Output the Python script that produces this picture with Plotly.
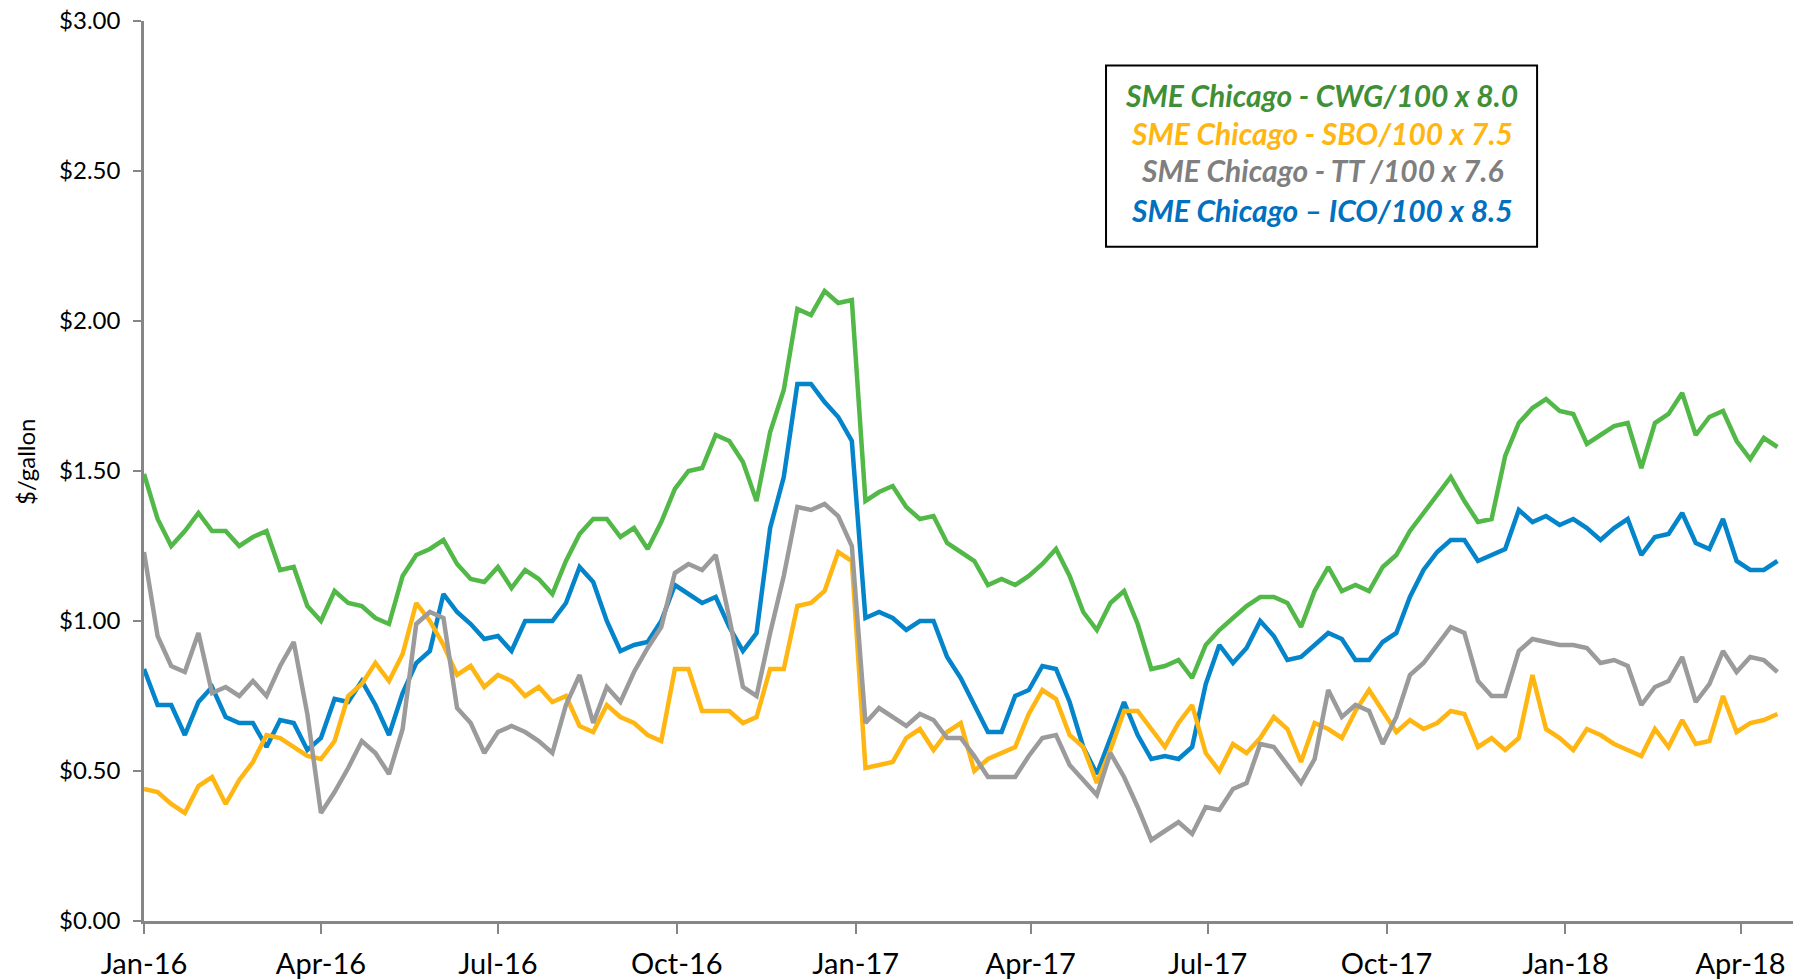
import plotly.graph_objects as go
import pandas as pd

# Weekly observation dates (Fridays)
dates = pd.date_range("2016-01-01", "2018-04-20", freq="7D")

cwg = [1.49, 1.34, 1.25, 1.30, 1.36, 1.30, 1.30, 1.25, 1.28, 1.30,
       1.17, 1.18, 1.05, 1.00, 1.10, 1.06, 1.05, 1.01, 0.99, 1.15,
       1.22, 1.24, 1.27, 1.19, 1.14, 1.13, 1.18, 1.11, 1.17, 1.14,
       1.09, 1.20, 1.29, 1.34, 1.34, 1.28, 1.31, 1.24, 1.33, 1.44,
       1.50, 1.51, 1.62, 1.60, 1.53, 1.40, 1.63, 1.77, 2.04, 2.02,
       2.10, 2.06, 2.07, 1.40, 1.43, 1.45, 1.38, 1.34, 1.35, 1.26,
       1.23, 1.20, 1.12, 1.14, 1.12, 1.15, 1.19, 1.24, 1.15, 1.03,
       0.97, 1.06, 1.10, 0.99, 0.84, 0.85, 0.87, 0.81, 0.92, 0.97,
       1.01, 1.05, 1.08, 1.08, 1.06, 0.98, 1.10, 1.18, 1.10, 1.12,
       1.10, 1.18, 1.22, 1.30, 1.36, 1.42, 1.48, 1.40, 1.33, 1.34,
       1.55, 1.66, 1.71, 1.74, 1.70, 1.69, 1.59, 1.62, 1.65, 1.66,
       1.51, 1.66, 1.69, 1.76, 1.62, 1.68, 1.70, 1.60, 1.54, 1.61,
       1.58]

sbo = [0.44, 0.43, 0.39, 0.36, 0.45, 0.48, 0.39, 0.47, 0.53, 0.62,
       0.61, 0.58, 0.55, 0.54, 0.60, 0.75, 0.79, 0.86, 0.80, 0.89,
       1.06, 1.00, 0.92, 0.82, 0.85, 0.78, 0.82, 0.80, 0.75, 0.78,
       0.73, 0.75, 0.65, 0.63, 0.72, 0.68, 0.66, 0.62, 0.60, 0.84,
       0.84, 0.70, 0.70, 0.70, 0.66, 0.68, 0.84, 0.84, 1.05, 1.06,
       1.10, 1.23, 1.20, 0.51, 0.52, 0.53, 0.61, 0.64, 0.57, 0.63,
       0.66, 0.50, 0.54, 0.56, 0.58, 0.69, 0.77, 0.74, 0.62, 0.58,
       0.46, 0.57, 0.70, 0.70, 0.64, 0.58, 0.66, 0.72, 0.56, 0.50,
       0.59, 0.56, 0.61, 0.68, 0.64, 0.53, 0.66, 0.64, 0.61, 0.70,
       0.77, 0.70, 0.63, 0.67, 0.64, 0.66, 0.70, 0.69, 0.58, 0.61,
       0.57, 0.61, 0.82, 0.64, 0.61, 0.57, 0.64, 0.62, 0.59, 0.57,
       0.55, 0.64, 0.58, 0.67, 0.59, 0.60, 0.75, 0.63, 0.66, 0.67,
       0.69]

tt = [1.23, 0.95, 0.85, 0.83, 0.96, 0.76, 0.78, 0.75, 0.80, 0.75,
      0.85, 0.93, 0.69, 0.36, 0.43, 0.51, 0.60, 0.56, 0.49, 0.64,
      0.99, 1.03, 1.01, 0.71, 0.66, 0.56, 0.63, 0.65, 0.63, 0.60,
      0.56, 0.72, 0.82, 0.66, 0.78, 0.73, 0.83, 0.91, 0.98, 1.16,
      1.19, 1.17, 1.22, 1.01, 0.78, 0.75, 0.96, 1.15, 1.38, 1.37,
      1.39, 1.35, 1.25, 0.66, 0.71, 0.68, 0.65, 0.69, 0.67, 0.61,
      0.61, 0.55, 0.48, 0.48, 0.48, 0.55, 0.61, 0.62, 0.52, 0.47,
      0.42, 0.56, 0.48, 0.38, 0.27, 0.30, 0.33, 0.29, 0.38, 0.37,
      0.44, 0.46, 0.59, 0.58, 0.52, 0.46, 0.54, 0.77, 0.68, 0.72,
      0.70, 0.59, 0.68, 0.82, 0.86, 0.92, 0.98, 0.96, 0.80, 0.75,
      0.75, 0.90, 0.94, 0.93, 0.92, 0.92, 0.91, 0.86, 0.87, 0.85,
      0.72, 0.78, 0.80, 0.88, 0.73, 0.79, 0.90, 0.83, 0.88, 0.87,
      0.83]

ico = [0.84, 0.72, 0.72, 0.62, 0.73, 0.78, 0.68, 0.66, 0.66, 0.58,
       0.67, 0.66, 0.57, 0.61, 0.74, 0.73, 0.80, 0.72, 0.62, 0.76,
       0.86, 0.90, 1.09, 1.03, 0.99, 0.94, 0.95, 0.90, 1.00, 1.00,
       1.00, 1.06, 1.18, 1.13, 1.00, 0.90, 0.92, 0.93, 1.00, 1.12,
       1.09, 1.06, 1.08, 0.98, 0.90, 0.96, 1.31, 1.48, 1.79, 1.79,
       1.73, 1.68, 1.60, 1.01, 1.03, 1.01, 0.97, 1.00, 1.00, 0.88,
       0.81, 0.72, 0.63, 0.63, 0.75, 0.77, 0.85, 0.84, 0.73, 0.58,
       0.49, 0.61, 0.73, 0.62, 0.54, 0.55, 0.54, 0.58, 0.79, 0.92,
       0.86, 0.91, 1.00, 0.95, 0.87, 0.88, 0.92, 0.96, 0.94, 0.87,
       0.87, 0.93, 0.96, 1.08, 1.17, 1.23, 1.27, 1.27, 1.20, 1.22,
       1.24, 1.37, 1.33, 1.35, 1.32, 1.34, 1.31, 1.27, 1.31, 1.34,
       1.22, 1.28, 1.29, 1.36, 1.26, 1.24, 1.34, 1.20, 1.17, 1.17,
       1.20]

legend_labels = ["SME Chicago - CWG/100 x 8.0",
                 "SME Chicago - SBO/100 x 7.5",
                 "SME Chicago - TT /100 x 7.6",
                 "SME Chicago \u2013 ICO/100 x 8.5"]
legend_colors = ["#3F8F37", "#FFB612", "#7F7F7F", "#0070C0"]

# draw order: green, blue, yellow, gray
traces = [("CWG", cwg, "#52B848"), ("ICO", ico, "#0484CA"),
          ("SBO", sbo, "#FFB612"), ("TT", tt, "#9B9B9B")]

fig = go.Figure()
for name, vals, color in traces:
    fig.add_trace(go.Scatter(x=dates, y=vals, mode="lines", name=name,
                             line=dict(color=color, width=4.5),
                             showlegend=False, hoverinfo="skip"))

axis_grey = "#868686"
fig.update_layout(
    width=1808, height=980,
    margin=dict(l=144, r=15, t=21, b=59, autoexpand=False),
    paper_bgcolor="white", plot_bgcolor="white",
    font=dict(family="Lato", color="black"),
    xaxis=dict(type="date", range=["2016-01-01", "2018-04-28"],
               tick0="2016-01-01", dtick="M3", tickformat="%b-%y",
               ticks="outside", ticklen=10, tickwidth=2, tickcolor=axis_grey,
               showline=True, linecolor=axis_grey, linewidth=2.5,
               showgrid=False, zeroline=False, ticklabelstandoff=5,
               tickfont=dict(family="Lato", size=29, color="black")),
    yaxis=dict(range=[0, 3], dtick=0.5, tick0=0, tickprefix="$", tickformat=".2f",
               ticks="outside", ticklen=8, tickwidth=2, tickcolor=axis_grey,
               showline=True, linecolor=axis_grey, linewidth=2.5,
               showgrid=False, zeroline=False, ticklabelstandoff=8,
               tickfont=dict(family="Lato", size=24, color="black")),
)

# y-axis title
fig.add_annotation(text="$/gallon", xref="paper", yref="paper", x=-0.0722, y=0.511,
                   xanchor="center", yanchor="middle", textangle=-90, showarrow=False,
                   font=dict(family="Lato", size=24, color="black"))

# legend box
fig.add_shape(type="rect", xref="paper", yref="paper",
              x0=0.5834, x1=0.8448, y0=0.7493, y1=0.9505,
              line=dict(color="black", width=2), fillcolor="white", layer="above")
legend_y = [0.9180, 0.8756, 0.8349, 0.7904]
for txt, col, yy in zip(legend_labels, legend_colors, legend_y):
    fig.add_annotation(text="<b><i>" + txt + "</i></b>", xref="paper", yref="paper",
                       x=0.7141, y=yy, xanchor="center", yanchor="middle", showarrow=False,
                       font=dict(family="Lato", size=30, color=col))

fig.write_html("out.html", config={"displayModeBar": False},
               post_script="document.body.style.margin='0';document.body.style.overflow='hidden';")
